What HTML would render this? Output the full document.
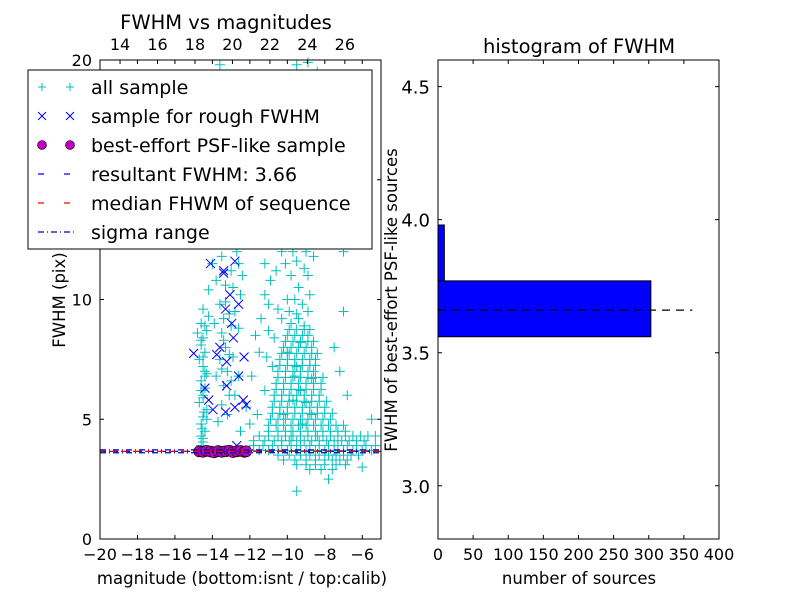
<!DOCTYPE html>
<html><head><meta charset="utf-8"><style>
body{margin:0;background:#fff;}
svg text{font-family:"DejaVu Sans","Liberation Sans",sans-serif;fill:#000;}
</style></head><body>
<svg id="fig" width="800" height="600" xmlns="http://www.w3.org/2000/svg">
<rect width="800" height="600" fill="#fff"/>
<g id="left"></g>
<g id="right"></g>
</svg>
<script>
const allSample=[[-14.6,3.9],[-14.5,4.2],[-14.4,4.5],[-14.6,4.8],[-14.5,5.1],[-14.3,5.4],[-14.7,5.7],[-14.5,6.0],[-14.4,6.3],[-14.6,6.6],[-14.3,6.9],[-14.5,7.2],[-14.7,7.5],[-14.4,7.8],[-14.6,8.1],[-14.5,8.4],[-14.3,8.7],[-14.6,9.0],[-14.2,9.3],[-14.8,8.6],[-14.6,4.3],[-14.5,5.9],[-14.4,7.0],
[-14.5,4.05],[-14.55,4.6],[-14.45,5.3],[-14.6,6.2],[-14.4,6.8],[-14.5,7.6],[-14.6,8.3],[-14.4,8.9],[-14.5,9.6],[-14.3,5.0],
[-13.6,9.8],[-13.4,9.2],[-13.5,8.6],[-13.3,8.0],[-13.6,7.5],[-13.2,7.0],[-13.4,6.4],[-13.1,6.0],[-13.5,5.6],[-12.9,10.5],[-13.0,11.2],[-12.8,9.5],[-12.6,8.8],[-13.8,10.8],[-14.0,11.5],[-13.2,12.5],[-12.7,12.0],[-12.4,11.0],[-12.9,7.6],[-12.6,6.8],[-12.2,5.5],[-12.0,4.8],[-13.7,4.9],[-13.9,9.0],[-13.8,6.8],
[-13.3,9.9],[-13.1,9.4],[-13.0,8.9],[-13.4,8.3],[-13.1,7.7],[-13.5,7.1],[-13.0,6.6],[-12.8,6.0],[-13.2,5.2],[-12.5,10.2],[-13.3,10.6],[-12.6,11.5],[-13.5,11.8],[-14.2,10.4],[-12.3,12.6],
[-15.0,12.5],[-14.9,13.5],[-13.6,14.8],[-12.4,16.0],[-11.8,17.0],[-11.0,18.0],[-10.5,19.0],[-9.5,19.8],[-8.9,19.9],[-8.4,19.5],[-9.9,17.5],[-10.2,16.0],[-9.2,16.5],[-8.7,15.5],[-9.6,14.5],[-10.8,14.0],[-11.5,13.0],[-8.3,14.0],[-7.5,15.0],[-7.0,12.0],[-8.0,12.5],[-9.1,13.0],[-10.3,12.0],[-11.2,11.5],[-9.8,11.0],[-8.6,11.8],[-13.6,19.8],[-12.9,18.5],[-7.8,18.2],[-6.5,13.0],
[-9.4,15.2],[-9.0,14.2],[-9.8,13.4],[-8.8,13.5],[-10.0,12.8],[-9.5,11.6],[-9.1,11.3],[-8.5,12.8],[-10.4,13.5],[-11.0,12.5],
[-11.2,10.2],[-10.9,10.8],[-10.6,11.2],[-10.1,11.5],[-9.7,12.0],[-9.3,12.5],[-9.0,12.0],[-8.9,11.0],[-9.4,10.5],[-10.0,10.0],[-10.5,9.6],[-11.4,9.2],[-11.7,8.5],[-11.0,8.7],[-11.5,7.8],[-11.9,6.8],[-11.2,6.2],[-10.8,7.2],
[-9.6,10.0],[-9.2,9.8],[-8.8,10.2],[-9.9,9.5],[-9.5,9.4],[-8.9,9.5],[-10.3,9.2],[-11.0,9.8],[-10.7,8.4],[-11.1,7.6],
[-9.8,9.0],[-9.4,9.2],[-9.1,8.9],[-10.0,8.5],[-9.6,8.5],[-9.2,8.5],[-8.9,8.5],[-10.2,8.0],[-9.8,8.0],[-9.4,8.0],[-9.0,8.0],[-8.7,8.0],
[-10.4,7.5],[-10.0,7.5],[-9.6,7.5],[-9.2,7.5],[-8.8,7.5],[-8.5,7.5],[-10.5,7.0],[-10.1,7.0],[-9.7,7.0],[-9.3,7.0],[-8.9,7.0],[-8.6,7.0],
[-10.6,6.5],[-10.2,6.5],[-9.8,6.5],[-9.4,6.5],[-9.0,6.5],[-8.6,6.5],[-8.2,6.5],[-10.7,6.0],[-10.3,6.0],[-9.9,6.0],[-9.5,6.0],[-9.1,6.0],[-8.7,6.0],[-8.3,6.0],
[-10.8,5.5],[-10.4,5.5],[-10.0,5.5],[-9.6,5.5],[-9.2,5.5],[-8.8,5.5],[-8.4,5.5],[-8.0,5.5],[-10.9,5.0],[-10.5,5.0],[-10.1,5.0],[-9.7,5.0],[-9.3,5.0],[-8.9,5.0],[-8.5,5.0],[-8.1,5.0],[-7.7,5.0],
[-11.0,4.5],[-10.5,4.5],[-10.1,4.5],[-9.7,4.5],[-9.3,4.5],[-8.9,4.5],[-8.5,4.5],[-8.1,4.5],[-7.7,4.5],[-7.3,4.5],[-6.9,4.5],
[-11.8,4.1],[-11.2,4.1],[-10.7,4.1],[-10.3,4.1],[-9.9,4.1],[-9.5,4.1],[-9.1,4.1],[-8.7,4.1],[-8.3,4.1],[-7.9,4.1],[-7.5,4.1],[-7.1,4.1],[-6.7,4.1],[-6.3,4.1],[-5.9,4.1],
[-12.0,3.7],[-11.5,3.7],[-11.0,3.7],[-10.5,3.7],[-10.0,3.7],[-9.5,3.7],[-9.0,3.7],[-8.5,3.7],[-8.0,3.7],[-7.5,3.7],[-7.0,3.7],[-6.5,3.7],[-6.0,3.7],[-5.5,3.7],
[-10.2,3.3],[-9.6,3.3],[-9.0,3.3],[-8.5,3.3],[-8.0,3.3],[-7.6,3.3],[-7.2,3.3],[-6.8,3.3],[-8.8,2.9],[-8.2,2.9],[-7.6,2.9],
[-9.5,2.0],[-7.8,2.5],[-6.0,3.0],[-5.3,4.3],[-5.5,5.0],[-6.8,6.0],[-7.2,7.0],[-7.5,8.0],[-7.0,9.5],[-11.6,5.2],[-12.5,4.5],
[-10.0,7.8],[-9.5,7.2],[-9.3,6.2],[-9.7,5.8],[-8.7,5.2],[-9.2,4.8],[-8.4,4.3],[-9.8,4.3],[-9.6,6.8],[-9.0,5.7],[-10.2,5.2],[-8.7,6.7],[-9.3,8.2]];
const denseRows=[
[8.75,[-9.9,-9.5,-9.1,-8.8]],
[8.25,[-10.1,-9.7,-9.3,-8.9,-8.6]],
[7.75,[-10.3,-9.9,-9.5,-9.1,-8.7,-8.4]],
[7.25,[-10.4,-10.0,-9.6,-9.2,-8.8,-8.5]],
[6.75,[-10.5,-10.1,-9.7,-9.3,-8.9,-8.5,-8.1]],
[6.25,[-10.6,-10.2,-9.8,-9.4,-9.0,-8.6,-8.2]],
[5.75,[-10.7,-10.3,-9.9,-9.5,-9.1,-8.7,-8.3,-7.9]],
[5.25,[-10.8,-10.4,-10.0,-9.6,-9.2,-8.8,-8.4,-8.0,-7.6]],
[4.75,[-11.0,-10.6,-10.2,-9.8,-9.4,-9.0,-8.6,-8.2,-7.8,-7.4,-7.0]],
[4.3,[-11.5,-11.0,-10.5,-10.1,-9.7,-9.3,-8.9,-8.5,-8.1,-7.7,-7.3,-6.9,-6.5,-6.1,-5.7]],
[3.9,[-11.8,-11.3,-10.8,-10.3,-9.8,-9.3,-8.8,-8.3,-7.8,-7.3,-6.8,-6.3,-5.8,-5.3]],
[3.5,[-10.5,-9.9,-9.3,-8.8,-8.3,-7.8,-7.4,-7.0,-6.6,-6.2]],
[3.1,[-9.5,-9.0,-8.5,-8.0,-7.4,-6.9]]];
const roughSample=[[-15.0,7.75],[-14.1,11.5],[-13.4,11.2],[-13.4,11.1],[-12.8,11.6],[-13.06,10.2],[-12.6,9.8],[-13.3,9.6],[-12.97,9.0],[-12.88,8.4],[-13.6,8.0],[-13.77,7.7],[-13.24,7.4],[-12.31,7.6],[-12.6,6.8],[-13.24,6.4],[-14.4,6.3],[-14.2,5.8],[-13.97,5.4],[-13.3,5.3],[-12.8,5.5],[-12.35,5.8],[-12.2,5.6],[-12.7,3.9]];
const psfMag=[-14.7,-14.5,-14.3,-14.1,-13.9,-13.7,-13.5,-13.3,-13.1,-12.9,-12.7,-12.5,-12.3,-12.2];
const psfFwhm=[3.66,3.64,3.68,3.65,3.62,3.67,3.64,3.66,3.69,3.63,3.66,3.68,3.64,3.66];
const resultFwhm=3.66, medianFwhm=3.66, sigmaLo=3.60, sigmaHi=3.72;
const xTicks=[-20,-18,-16,-14,-12,-10,-8,-6];
const yTicks=[0,5,10,15,20];
const topTicks=[14,16,18,20,22,24,26];
const calibOffset=32.93;
const histEdges=[3.56,3.77,3.98];
const histCounts=[303,9];
const histXTicks=[0,50,100,150,200,250,300,350,400];
const histYTicks=[3.0,3.5,4.0,4.5];

const NS="http://www.w3.org/2000/svg";
function el(tag,attrs,parent,txt){const e=document.createElementNS(NS,tag);for(const k in attrs)e.setAttribute(k,attrs[k]);if(txt!==undefined)e.textContent=txt;parent.appendChild(e);return e;}
const L=document.getElementById('left'), R=document.getElementById('right');
const lx0=100,lx1=381,ly0=60,ly1=539;
const X=m=>lx0+(m+20)/15*(lx1-lx0);
const Y=f=>ly1-f/20*(ly1-ly0);
const fmt=v=>(v<0?'\u2212':'')+Math.abs(v);

const defs=el('defs',{},document.getElementById('fig'));
const cp=el('clipPath',{id:'lc'},defs);el('rect',{x:lx0-6,y:ly0-6,width:lx1-lx0+6,height:ly1-ly0+6},cp);
const pts=el('g',{'clip-path':'url(#lc)'},L);
const cyanPts=allSample.slice();
denseRows.forEach(([f,ms])=>ms.forEach(m=>cyanPts.push([m,f])));
for(const [m,f] of cyanPts){
  const x=X(m),y=Y(f);
  const p=el('path',{d:`M${x-5},${y}H${x+5}M${x},${y-5}V${y+5}`,stroke:'#00bfbf','stroke-width':1},pts);
  
  
}
for(const [m,f] of roughSample){
  const x=X(m),y=Y(f);
  const p=el('path',{d:`M${x-4.5},${y-4.5}L${x+4.5},${y+4.5}M${x-4.5},${y+4.5}L${x+4.5},${y-4.5}`,stroke:'#0000ff','stroke-width':1},pts);
  
  
}
psfMag.forEach((m,i)=>{
  const c=el('circle',{cx:X(m),cy:Y(psfFwhm[i]),r:5.5,fill:'#bf00bf',stroke:'#000','stroke-width':0.6},pts);
  
  
});
[[sigmaLo,'6,3,1,3','#0000aa'],[sigmaHi,'6,3,1,3','#0000aa'],[resultFwhm,'6,6','#0000ff'],[medianFwhm,'6,6','#ff0000']].forEach(([v,d,c],i)=>{
  const ln=el('line',{x1:lx0,x2:lx1,y1:Y(v),y2:Y(v),stroke:c,'stroke-width':1.3,'stroke-dasharray':d,'stroke-dashoffset':i==3?3:0},pts);
  
  
});
el('rect',{x:lx0,y:ly0,width:lx1-lx0,height:ly1-ly0,fill:'none',stroke:'#000'},L);
xTicks.forEach(t=>{const x=X(t);el('path',{d:`M${x},${ly1}v-4M${x},${ly0}v4`,stroke:'#000'},L);
  const tx=el('text',{x:x,y:ly1+21,'font-size':16,'text-anchor':'middle'},L,fmt(t));});
topTicks.forEach(t=>{const x=X(t-calibOffset);el('path',{d:`M${x},${ly0}v4`,stroke:'#000'},L);
  const tx=el('text',{x:x,y:ly0-10,'font-size':16,'text-anchor':'middle'},L,t);});
yTicks.forEach(t=>{const y=Y(t);el('path',{d:`M${lx0},${y}h4M${lx1},${y}h-4`,stroke:'#000'},L);
  const tx=el('text',{x:lx0-8,y:y+6,'font-size':16,'text-anchor':'end'},L,t);});
el('text',{x:242,y:584,'font-size':16.5,'text-anchor':'middle',},L,'magnitude (bottom:isnt / top:calib)');
el('text',{x:226,y:29,'font-size':19.5,'text-anchor':'middle',},L,'FWHM vs magnitudes');
el('text',{x:0,y:0,'font-size':16.5,'text-anchor':'middle',transform:'translate(65,300) rotate(-90)',},L,'FWHM (pix)');

const lg=el('g',{},L);
el('rect',{x:28,y:70,width:344,height:179,fill:'#fff',stroke:'#000'},lg);
const ent=['all sample','sample for rough FWHM','best-effort PSF-like sample','resultant FWHM: 3.66','median FHWM of sequence','sigma range'];
ent.forEach((s,i)=>{const y=87+i*29;const g=el('g',{},lg);
  if(i==0)[42,70].forEach(x=>el('path',{d:`M${x-4},${y}h8M${x},${y-4}v8`,stroke:'#00bfbf'},g));
  if(i==1)[42,70].forEach(x=>el('path',{d:`M${x-4},${y-4}l8,8M${x-4},${y+4}l8,-8`,stroke:'#0000ff'},g));
  if(i==2)[42,70].forEach(x=>el('circle',{cx:x,cy:y,r:4.5,fill:'#bf00bf',stroke:'#000','stroke-width':0.6},g));
  if(i==3)el('line',{x1:38,x2:76,y1:y,y2:y,stroke:'#0000ff','stroke-width':1.3,'stroke-dasharray':'6,20'},g);
  if(i==4)el('line',{x1:38,x2:76,y1:y,y2:y,stroke:'#ff0000','stroke-width':1.3,'stroke-dasharray':'6,20'},g);
  if(i==5)el('line',{x1:38,x2:76,y1:y,y2:y,stroke:'#0000aa','stroke-width':1.3,'stroke-dasharray':'6,3,1,3'},g);
  el('text',{x:91,y:y+7,'font-size':19},g,s);});

const rx0=438,rx1=719,ry0=60,ry1=539;
const HX=c=>rx0+c/400*(rx1-rx0);
const HY=v=>ry1-(v-2.8)/1.8*(ry1-ry0);
histCounts.forEach((c,i)=>{const r=el('rect',{x:HX(0),y:HY(histEdges[i+1]),width:HX(c)-HX(0),height:HY(histEdges[i])-HY(histEdges[i+1]),fill:'#0000ff',stroke:'#000','stroke-width':1},R);
  
  });
el('line',{x1:HX(0),x2:HX(362),y1:HY(resultFwhm),y2:HY(resultFwhm),stroke:'#000','stroke-width':1.2,'stroke-dasharray':'8,6',},R);
el('rect',{x:rx0,y:ry0,width:rx1-rx0,height:ry1-ry0,fill:'none',stroke:'#000'},R);
histXTicks.forEach(t=>{const x=HX(t);el('path',{d:`M${x},${ry1}v-4M${x},${ry0}v4`,stroke:'#000'},R);
  const tx=el('text',{x:x,y:ry1+21,'font-size':16,'text-anchor':'middle'},R,t);});
histYTicks.forEach(t=>{const y=HY(t);el('path',{d:`M${rx0},${y}h4M${rx1},${y}h-4`,stroke:'#000'},R);
  const tx=el('text',{x:rx0-8,y:y+7,'font-size':18,'text-anchor':'end'},R,t.toFixed(1));});
el('text',{x:579,y:584,'font-size':16.5,'text-anchor':'middle',},R,'number of sources');
el('text',{x:579,y:53,'font-size':19.5,'text-anchor':'middle',},R,'histogram of FWHM');
el('text',{x:0,y:0,'font-size':16.5,'text-anchor':'middle',transform:'translate(397,300) rotate(-90)',},R,'FWHM of best-effort PSF-like sources');
</script>
</body></html>
